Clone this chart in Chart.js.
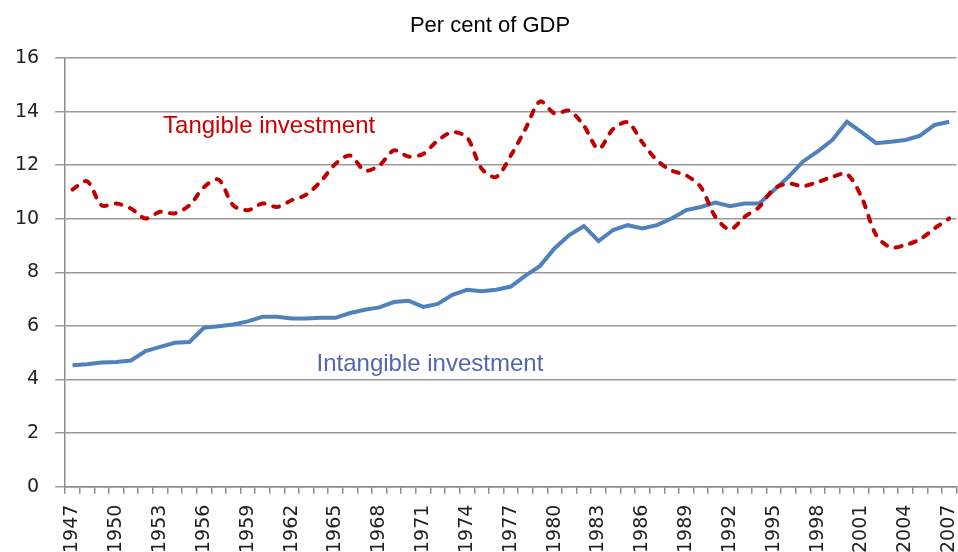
<!DOCTYPE html>
<html>
<head>
<meta charset="utf-8">
<script src="https://cdn.jsdelivr.net/npm/chart.js@4"></script>
<style>
  html, body { margin: 0; padding: 0; background: #fff; overflow: hidden; }
  #wrap { width: 958px; height: 552px; overflow: hidden; }
</style>
</head>
<body>
<div id="wrap"><canvas id="chart" width="983" height="564"></canvas></div>
<script>
// categories: one per year
const years = [];
for (let y = 1947; y <= 2007; y++) years.push(String(y));

// per cent of GDP
const intangible = [
  4.53, 4.57, 4.63, 4.65, 4.71, 5.06, 5.22, 5.37, 5.40, 5.93,
  5.99, 6.05, 6.17, 6.34, 6.34, 6.28, 6.28, 6.30, 6.30, 6.48,
  6.60, 6.69, 6.89, 6.94, 6.71, 6.82, 7.16, 7.35, 7.29, 7.35,
  7.47, 7.88, 8.24, 8.90, 9.39, 9.73, 9.17, 9.58, 9.76, 9.64,
  9.76, 10.01, 10.32, 10.44, 10.60, 10.47, 10.57, 10.57, 11.06, 11.56,
  12.14, 12.51, 12.94, 13.62, 13.23, 12.82, 12.87, 12.94, 13.10, 13.50, 13.62
];
const tangible = [
  11.09, 11.40, 10.50, 10.57, 10.38, 10.01, 10.26, 10.20, 10.50, 11.18,
  11.46, 10.50, 10.32, 10.57, 10.44, 10.69, 10.90, 11.40, 12.05, 12.36,
  11.80, 11.99, 12.55, 12.32, 12.42, 12.92, 13.23, 13.04, 11.87, 11.56,
  12.36, 13.35, 14.38, 13.93, 14.03, 13.47, 12.61, 13.35, 13.60, 12.85,
  12.18, 11.80, 11.62, 11.18, 10.07, 9.60, 10.07, 10.44, 11.12, 11.31,
  11.22, 11.37, 11.56, 11.67, 10.81, 9.39, 8.93, 9.02, 9.23, 9.64, 10.01
];
const seriesNames = ["Tangible investment", "Intangible investment"];
const titleText = "Per cent of GDP";

// title and the two in-chart series labels
const textPlugin = {
  id: "texts",
  afterDraw: (chart) => {
    const ctx = chart.ctx;
    const xs = chart.scales.x;
    const ys = chart.scales.y;
    ctx.save();
    ctx.textBaseline = "middle";
    ctx.textAlign = "center";
    ctx.fillStyle = "#000";
    ctx.font = "22px 'Liberation Sans', Arial, sans-serif";
    ctx.fillText(titleText, 490, 26);

    ctx.textAlign = "left";
    ctx.font = "24px 'Liberation Sans', Arial, sans-serif";
    ctx.fillStyle = "#cc0000";
    ctx.fillText(seriesNames[0], xs.getPixelForValue(6.2), ys.getPixelForValue(13.45));
    ctx.fillStyle = "#5566b0";
    ctx.fillText(seriesNames[1], xs.getPixelForValue(16.7), ys.getPixelForValue(4.55));
    ctx.restore();
  },
};

const chart = new Chart(document.getElementById("chart"), {
  type: "line",
  data: {
    labels: years,
    datasets: [
      {
        label: seriesNames[0],
        data: tangible,
        borderColor: "#c00000",
        borderWidth: 4,
        borderDash: [6, 9],
        borderCapStyle: "round",
        tension: 0.3,
        pointRadius: 0,
        fill: false,
      },
      {
        label: seriesNames[1],
        data: intangible,
        borderColor: "#4f81bd",
        borderWidth: 4,
        tension: 0,
        pointRadius: 0,
        fill: false,
      },
    ],
  },
  options: {
    responsive: false,
    animation: false,
    devicePixelRatio: 1,
    layout: { padding: { top: 58, left: -1, right: 1, bottom: 0 } },
    plugins: {
      legend: { display: false },
      tooltip: { enabled: false },
    },
    scales: {
      x: {
        offset: true,
        grid: {
          display: true,
          drawOnChartArea: false,
          drawTicks: true,
          tickLength: 7,
          offset: true,
          color: "#8c8c8c",
          lineWidth: 1.5,
        },
        border: { display: true, color: "#8c8c8c", width: 1.5 },
        ticks: {
          autoSkip: false,
          maxRotation: 90,
          minRotation: 90,
          padding: 11,
          color: "#222",
          font: { family: "'DejaVu Sans'", size: 19 },
          callback: function (value, index) {
            return index % 3 === 0 ? this.getLabelForValue(value) : "";
          },
        },
      },
      y: {
        min: 0,
        max: 16,
        grid: {
          color: "#9a9a9a",
          lineWidth: 1.5,
          tickLength: 10,
        },
        border: { display: true, color: "#8c8c8c", width: 1.5 },
        ticks: {
          stepSize: 2,
          padding: 16,
          color: "#222",
          font: { family: "'DejaVu Sans'", size: 19 },
        },
      },
    },
  },
  plugins: [textPlugin],
});
</script>
</body>
</html>
